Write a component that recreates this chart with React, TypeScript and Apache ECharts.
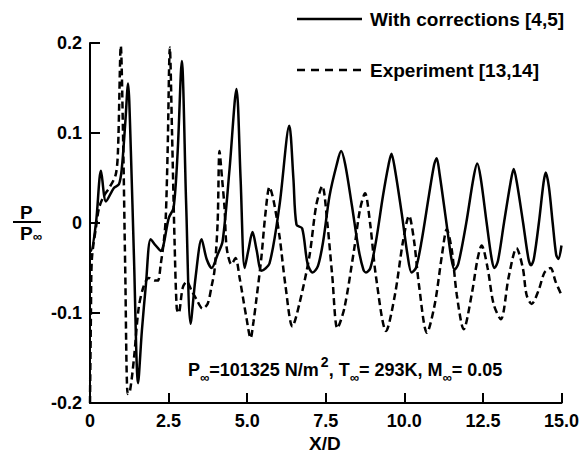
import React, { useEffect, useRef } from "react";
import * as echarts from "echarts";

const seriesNames = ["With corrections [4,5]", "Experiment [13,14]"];

const solidX = [0, 0.03, 0.19, 0.35, 0.51, 0.76, 0.92, 1.01, 1.12, 1.21, 1.3, 1.4, 1.53, 1.65, 1.78, 1.93, 2.09, 2.25, 2.51, 2.66, 2.79, 2.92, 3.06, 3.2, 3.36, 3.55, 3.71, 3.87, 4.06, 4.22, 4.44, 4.66, 4.79, 4.92, 5.04, 5.17, 5.3, 5.46, 5.71, 6.03, 6.34, 6.47, 6.57, 6.75, 6.92, 7.08, 7.25, 7.42, 7.62, 7.85, 7.99, 8.12, 8.33, 8.55, 8.7, 8.78, 8.92, 9.1, 9.32, 9.5, 9.59, 9.7, 9.92, 10.1, 10.23, 10.37, 10.55, 10.78, 10.95, 11.03, 11.12, 11.34, 11.5, 11.6, 11.72, 11.97, 12.2, 12.32, 12.43, 12.62, 12.78, 12.87, 12.98, 13.17, 13.38, 13.48, 13.58, 13.78, 13.95, 14.03, 14.12, 14.28, 14.43, 14.5, 14.6, 14.72, 14.83, 14.9, 15.0];
const solidY = [-0.03, -0.031, 0.0, 0.058, 0.024, 0.039, 0.043, 0.06, 0.11, 0.155, 0.08, -0.04, -0.178, -0.12, -0.068, -0.018, -0.025, -0.031, 0.006, 0.017, 0.08, 0.18, 0.02, -0.112, -0.06, -0.018, -0.04, -0.05, -0.035, -0.02, 0.06, 0.149, 0.05, -0.05, -0.03, -0.01, -0.03, -0.053, -0.045, 0.02, 0.108, 0.05, -0.002, -0.006, -0.045, -0.055, -0.048, -0.02, 0.03, 0.065, 0.08, 0.065, 0.02, -0.03, -0.052, -0.055, -0.05, -0.02, 0.03, 0.065, 0.077, 0.06, 0.01, -0.035, -0.055, -0.05, -0.02, 0.03, 0.065, 0.072, 0.055, 0.0, -0.04, -0.052, -0.045, 0.0, 0.05, 0.066, 0.05, 0.0, -0.04, -0.05, -0.042, 0.0, 0.045, 0.06, 0.045, 0.0, -0.04, -0.047, -0.04, 0.0, 0.045, 0.056, 0.04, 0.0, -0.035, -0.04, -0.025];

const dashX = [0, 0.03, 0.06, 0.19, 0.29, 0.44, 0.63, 0.82, 0.89, 0.98, 1.05, 1.12, 1.2, 1.27, 1.4, 1.55, 1.71, 1.87, 2.06, 2.16, 2.25, 2.35, 2.41, 2.47, 2.54, 2.61, 2.69, 2.76, 2.82, 2.95, 3.08, 3.23, 3.39, 3.58, 3.74, 3.87, 3.96, 4.06, 4.12, 4.2, 4.28, 4.35, 4.5, 4.63, 4.76, 4.98, 5.11, 5.2, 5.3, 5.45, 5.58, 5.71, 5.84, 6.03, 6.22, 6.44, 6.66, 6.98, 7.2, 7.39, 7.55, 7.71, 7.87, 8.09, 8.4, 8.59, 8.75, 8.91, 9.1, 9.42, 9.7, 9.96, 10.15, 10.31, 10.47, 10.72, 10.97, 11.2, 11.35, 11.51, 11.67, 11.89, 12.14, 12.33, 12.46, 12.65, 12.84, 13.07, 13.32, 13.57, 13.77, 13.89, 14.05, 14.27, 14.46, 14.65, 14.81, 15.0];
const dashY = [-0.2, -0.1, -0.04, -0.005, 0.017, 0.03, 0.04, 0.054, 0.08, 0.197, 0.1, -0.05, -0.19, -0.187, -0.15, -0.094, -0.07, -0.061, -0.064, -0.064, -0.046, -0.02, 0.006, 0.08, 0.195, 0.1, -0.02, -0.095, -0.1, -0.072, -0.065, -0.075, -0.085, -0.095, -0.09, -0.07, -0.053, 0.0, 0.08, 0.05, 0.017, -0.028, -0.046, -0.039, -0.061, -0.106, -0.128, -0.11, -0.083, -0.039, 0.01, 0.04, 0.025, -0.015, -0.07, -0.115, -0.09, -0.037, 0.02, 0.041, 0.0, -0.06, -0.117, -0.095, -0.03, 0.015, 0.033, 0.0, -0.06, -0.12, -0.08, -0.02, 0.008, -0.02, -0.07, -0.122, -0.09, -0.035, -0.007, -0.03, -0.08, -0.118, -0.08, -0.04, -0.025, -0.05, -0.09, -0.107, -0.06, -0.028, -0.05, -0.08, -0.09, -0.075, -0.055, -0.05, -0.065, -0.08];

const FONT = "'Liberation Sans', Arial, Helvetica, sans-serif";

const zip = (xs: number[], ys: number[]) => xs.map((x, i) => [x, ys[i]]);

export default function App() {
  const ref = useRef<HTMLDivElement>(null);
  useEffect(() => {
    const chart = echarts.init(ref.current!, null, { renderer: "svg" });
    const axisCommon = {
      axisLine: { show: true, onZero: false, lineStyle: { color: "#000", width: 2 } },
      axisTick: { show: true, inside: true, length: 10, lineStyle: { color: "#000", width: 2 } },
      splitLine: { show: false },
    };
    const labelFmt = (v: number) => (Math.abs(v) < 1e-9 ? "0" : v.toFixed(1));
    chart.setOption({
      animation: false,
      backgroundColor: "#fff",
      textStyle: { fontFamily: FONT },
      grid: { left: 90, right: 19, top: 43, bottom: 53 },
      xAxis: {
        type: "value",
        min: 0,
        max: 15,
        interval: 2.5,
        ...axisCommon,
        axisLabel: { color: "#000", fontSize: 18, fontWeight: "bold", fontFamily: FONT, margin: 9, formatter: labelFmt },
      },
      yAxis: {
        type: "value",
        min: -0.2,
        max: 0.2,
        interval: 0.1,
        ...axisCommon,
        axisLabel: { color: "#000", fontSize: 18, fontWeight: "bold", fontFamily: FONT, margin: 8, formatter: labelFmt },
      },
      series: [
        {
          name: seriesNames[0],
          type: "line",
          data: zip(solidX, solidY),
          symbol: "none",
          smooth: 0.3,
          clip: false,
          lineStyle: { color: "#000", width: 2.5, type: "solid" },
        },
        {
          name: seriesNames[1],
          type: "line",
          data: zip(dashX, dashY),
          symbol: "none",
          smooth: 0.3,
          clip: false,
          lineStyle: { color: "#000", width: 2.5, type: [7, 4] },
        },
      ],
      graphic: [
        // legend
        {
          type: "line",
          shape: { x1: 297, y1: 19, x2: 362, y2: 19 },
          style: { stroke: "#000", lineWidth: 2.5 },
        },
        {
          type: "text",
          x: 370,
          y: 19,
          style: { text: seriesNames[0], font: `bold 19px ${FONT}`, fill: "#000", verticalAlign: "middle" },
        },
        {
          type: "line",
          shape: { x1: 297, y1: 70, x2: 362, y2: 70 },
          style: { stroke: "#000", lineWidth: 2.5, lineDash: [8, 6] },
        },
        {
          type: "text",
          x: 370,
          y: 70,
          style: { text: seriesNames[1], font: `bold 19px ${FONT}`, fill: "#000", verticalAlign: "middle" },
        },
        // y axis label P / P∞
        {
          type: "text",
          left: 20,
          top: 203,
          style: { text: "P", font: `bold 19px ${FONT}`, fill: "#000" },
        },
        {
          type: "line",
          shape: { x1: 13, y1: 222, x2: 41, y2: 222 },
          style: { stroke: "#000", lineWidth: 2 },
        },
        {
          type: "text",
          x: 20,
          y: 224,
          style: {
            text: "P{s|∞}",
            fill: "#000",
            font: `bold 19px ${FONT}`,
            rich: {
              s: { fontSize: 13, fontWeight: "bold", fontFamily: FONT, verticalAlign: "bottom", lineHeight: 14, padding: [10, 0, 0, 0] },
            },
          },
        },
        // annotation
        {
          type: "text",
          x: 188,
          y: 350,
          style: {
            text: "P{s|∞}=101325 N/m{p|2}, T{s|∞}= 293K, M{s|∞}= 0.05",
            fill: "#000",
            font: `bold 18px ${FONT}`,
            lineHeight: 40,
            rich: {
              s: { fontSize: 13, fontWeight: "bold", fontFamily: FONT, fill: "#000", padding: [14, 0, 0, 0] },
              p: { fontSize: 14, fontWeight: "bold", fontFamily: FONT, fill: "#000", padding: [0, 0, 16, 2] },
            },
          },
        },
        // x axis name
        {
          type: "text",
          left: 309,
          top: 434,
          style: { text: "X/D", font: `bold 19px ${FONT}`, fill: "#000" },
        },
      ],
    });
    return () => chart.dispose();
  }, []);
  return (
    <div
      ref={ref}
      style={{ position: "fixed", left: 0, top: 0, width: 582, height: 456, background: "#fff" }}
    />
  );
}
